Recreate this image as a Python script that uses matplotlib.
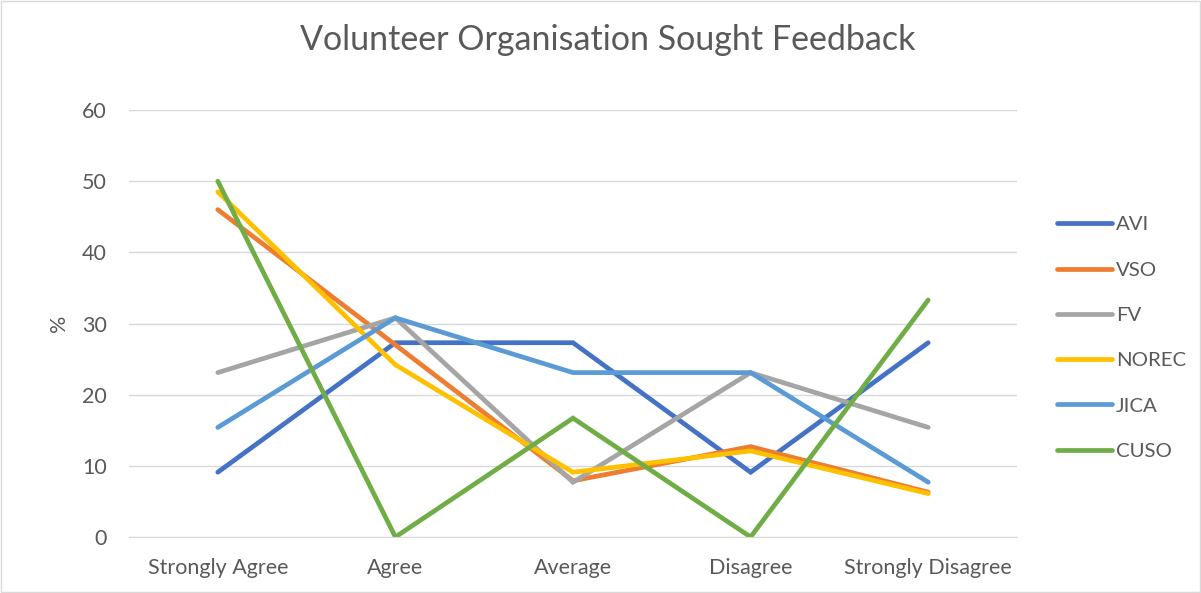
import matplotlib
matplotlib.use("Agg")
import matplotlib.pyplot as plt
from matplotlib.patches import Rectangle

categories = ["Strongly Agree", "Agree", "Average", "Disagree", "Strongly Disagree"]
avi = [9.1, 27.3, 27.3, 9.1, 27.3]
vso = [46.0, 27.0, 7.9, 12.7, 6.3]
fv = [23.1, 30.8, 7.7, 23.1, 15.4]
norec = [48.5, 24.2, 9.1, 12.1, 6.1]
jica = [15.4, 30.8, 23.1, 23.1, 7.7]
cuso = [50.0, 0.0, 16.7, 0.0, 33.3]

series_names = ["AVI", "VSO", "FV", "NOREC", "JICA", "CUSO"]
series_vals = [avi, vso, fv, norec, jica, cuso]
colors = ["#4472C4", "#ED7D31", "#A5A5A5", "#FFC000", "#5B9BD5", "#70AD47"]

plt.rcParams['font.family'] = ['Lato', 'DejaVu Sans']

fig = plt.figure(figsize=(12.01, 5.93), dpi=100)
ax = fig.add_axes([129 / 1201, 1 - 537 / 593, 888 / 1201, 427 / 593])

x = list(range(len(categories)))
for name, vals, c in zip(series_names, series_vals, colors):
    ax.plot(x, vals, color=c, lw=3.4, label=name, solid_capstyle='round',
            solid_joinstyle='miter')

ax.set_xlim(-0.5, 4.5)
ax.set_ylim(0, 60)
ax.set_yticks(range(0, 61, 10))
ax.set_xticks(x)
ax.set_xticklabels(categories)
ax.tick_params(axis='both', length=0, labelsize=15.5, colors='#595959')
ax.tick_params(axis='x', pad=15)
ax.tick_params(axis='y', pad=16)
ax.grid(axis='y', color='#D9D9D9', lw=1)
ax.set_axisbelow(True)
for s in ['top', 'right', 'left']:
    ax.spines[s].set_visible(False)
ax.spines['bottom'].set_color('#D9D9D9')
ax.set_ylabel('%', fontsize=15.5, color='#595959', labelpad=9)

fig.text(0.5 * (300 + 915) / 1201, 1 - 40 / 593, 'Volunteer Organisation Sought Feedback',
         fontsize=24.5, color='#595959', ha='center', va='center')

leg = fig.legend(*ax.get_legend_handles_labels(), loc='center left',
                 bbox_to_anchor=(1057 / 1201, 1 - 338 / 593), frameon=False,
                 fontsize=14.7, labelcolor='#595959', handlelength=2.7,
                 handletextpad=0.2, labelspacing=1.37, borderpad=0, borderaxespad=0)

fig.patches.append(Rectangle((0.001, 0.001), 0.998, 0.998, transform=fig.transFigure,
                             fill=False, edgecolor='#D9D9D9', lw=1))

fig.savefig('out.png', dpi=100)
